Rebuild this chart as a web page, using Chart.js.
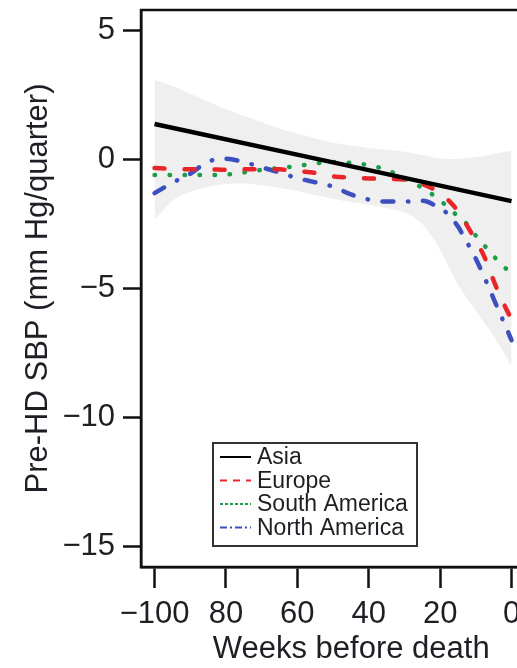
<!DOCTYPE html>
<html>
<head>
<meta charset="utf-8">
<script src="https://cdn.jsdelivr.net/npm/chart.js@4.4.1/dist/chart.umd.min.js"></script>
<style>
html, body { margin: 0; padding: 0; overflow: hidden; background: #fff; }
#wrap { position: absolute; left: 0; top: 0; width: 570px; height: 668px; }
</style>
</head>
<body>
<div id="wrap"><canvas id="chart" width="570" height="668"></canvas></div>
<script>
// weeks before death (negative = before)
var weeks = [-100, -95, -90, -85, -80, -75, -70, -65, -60, -55, -50, -45, -40, -35, -30, -25, -20, -17.5, -15, -12.5, -10, -7.5, -5, -2.5, 0];

var asiaWeeks = [-100, -50, 0];
var asia = [1.38, -0.11, -1.61];

var europe = [-0.33, -0.36, -0.38, -0.38, -0.40, -0.38, -0.37, -0.38, -0.45, -0.52, -0.65, -0.70, -0.73, -0.75, -0.78, -0.95, -1.30, -1.60, -2.00, -2.55, -3.15, -3.80, -4.70, -5.50, -6.20];
var southAmerica = [-0.60, -0.60, -0.60, -0.60, -0.58, -0.50, -0.40, -0.33, -0.25, -0.15, -0.09, -0.13, -0.22, -0.40, -0.73, -1.10, -1.58, -1.90, -2.20, -2.50, -2.95, -3.35, -3.75, -4.10, -4.45];
var northAmerica = [-1.30, -0.90, -0.55, -0.08, 0.03, -0.10, -0.30, -0.50, -0.72, -0.88, -1.05, -1.35, -1.55, -1.63, -1.63, -1.60, -1.90, -2.15, -2.60, -3.20, -3.85, -4.60, -5.40, -6.20, -7.00];

// grey confidence envelope
var bandWeeks = [-100, -95, -90, -85, -80, -75, -70, -65, -60, -55, -50, -45, -40, -35, -30, -25, -20, -15, -10, -5, 0];
var bandUpper = [3.10, 2.85, 2.55, 2.25, 1.95, 1.70, 1.45, 1.20, 1.00, 0.82, 0.65, 0.55, 0.45, 0.38, 0.30, 0.18, 0.05, 0.02, 0.10, 0.22, 0.35];
var bandLower = [-2.35, -1.60, -1.25, -1.05, -0.95, -0.92, -1.00, -1.10, -1.22, -1.38, -1.52, -1.65, -1.75, -1.88, -2.05, -2.50, -3.50, -4.85, -5.85, -6.85, -8.00];

var seriesNames = ['Asia', 'Europe', 'South America', 'North America'];

var xTickValues = [-100, -80, -60, -40, -20, 0];
var xTickLabels = ['\u2212100', '80', '60', '40', '20', '0'];
var yTickValues = [-15, -10, -5, 0, 5];
var yTickLabels = ['\u221215', '\u221210', '\u22125', '0', '5'];

function pts(xs, ys) {
    var out = [];
    for (var i = 0; i < xs.length; i++) out.push({x: xs[i], y: ys[i]});
    return out;
}

var FONT = '"Liberation Sans", Arial, Helvetica, sans-serif';
var INK = '#1e1e24';

var framePlugin = {
    id: 'frame',
    afterDraw: function(chart) {
        var a = chart.chartArea, ctx = chart.ctx;
        ctx.save();
        ctx.strokeStyle = '#111';
        ctx.lineWidth = 2.5;
        ctx.strokeRect(a.left, a.top, a.right - a.left, a.bottom - a.top);
        ctx.restore();
    }
};

// R-style boxed legend inside the plot
var boxLegend = {
    id: 'boxLegend',
    afterDraw: function(chart) {
        var ctx = chart.ctx;
        var items = chart.data.datasets.filter(function(d) { return !d.isBand; });
        var bx = 213, by = 443, bw = 204, bh = 103;
        ctx.save();
        ctx.fillStyle = '#fff';
        ctx.fillRect(bx, by, bw, bh);
        ctx.strokeStyle = '#333';
        ctx.lineWidth = 2;
        ctx.strokeRect(bx, by, bw, bh);
        ctx.font = '23px ' + FONT;
        ctx.textBaseline = 'middle';
        for (var i = 0; i < items.length; i++) {
            var d = items[i];
            var y = 457 + i * 23.5;
            ctx.strokeStyle = d.borderColor;
            ctx.lineWidth = 2;
            ctx.lineCap = 'butt';
            ctx.setLineDash(d.legendDash);
            ctx.beginPath();
            ctx.moveTo(220, y);
            ctx.lineTo(251, y);
            ctx.stroke();
            ctx.setLineDash([]);
            ctx.fillStyle = INK;
            ctx.fillText(d.label, 257, y + 1);
        }
        ctx.restore();
    }
};

var ctx = document.getElementById('chart').getContext('2d');
var myChart = new Chart(ctx, {
    type: 'line',
    data: {
        datasets: [
            {
                label: '', isBand: true, data: pts(bandWeeks, bandUpper),
                borderWidth: 0, pointRadius: 0, fill: '+1',
                backgroundColor: '#efefef', borderColor: 'rgba(0,0,0,0)',
                cubicInterpolationMode: 'monotone', order: 10
            },
            {
                label: '', isBand: true, data: pts(bandWeeks, bandLower),
                borderWidth: 0, pointRadius: 0, fill: false,
                borderColor: 'rgba(0,0,0,0)',
                cubicInterpolationMode: 'monotone', order: 10
            },
            {
                label: seriesNames[0], data: pts(asiaWeeks, asia),
                borderColor: '#000', borderWidth: 4.5, pointRadius: 0,
                legendDash: [], order: 1
            },
            {
                label: seriesNames[1], data: pts(weeks, europe),
                borderColor: '#e8262a', borderWidth: 4.5, pointRadius: 0,
                borderDash: [10, 20], borderCapStyle: 'round',
                cubicInterpolationMode: 'monotone', legendDash: [7, 6], order: 2
            },
            {
                label: seriesNames[2], data: pts(weeks, southAmerica),
                borderColor: '#1a9e4a', borderWidth: 4.5, pointRadius: 0,
                borderDash: [0.5, 14.5], borderCapStyle: 'round',
                cubicInterpolationMode: 'monotone', legendDash: [3, 2], order: 3
            },
            {
                label: seriesNames[3], data: pts(weeks, northAmerica),
                borderColor: '#3c4fbf', borderWidth: 4.5, pointRadius: 0,
                borderDash: [11, 14.5, 0.5, 14.5], borderCapStyle: 'round',
                cubicInterpolationMode: 'monotone', legendDash: [7, 3, 2, 3], order: 4
            }
        ]
    },
    options: {
        responsive: false,
        animation: false,
        devicePixelRatio: 1,
        layout: { padding: { top: 10, right: 8.5, left: 0, bottom: 0 } },
        plugins: {
            legend: { display: false },
            tooltip: { enabled: false },
            filler: { drawTime: 'beforeDatasetsDraw' }
        },
        scales: {
            x: {
                type: 'linear',
                min: -103.8,
                max: 14,
                afterFit: function(s) {
                    s.height = 101;
                    s.paddingLeft = 0; s.paddingRight = 0;
                },
                afterBuildTicks: function(s) {
                    s.ticks = xTickValues.map(function(v) { return {value: v}; });
                },
                ticks: {
                    autoSkip: false,
                    maxRotation: 0,
                    padding: 8,
                    color: INK,
                    font: { family: FONT, size: 31 },
                    callback: function(v) {
                        var i = xTickValues.indexOf(v);
                        return i < 0 ? '' : xTickLabels[i];
                    }
                },
                grid: { drawOnChartArea: false, drawTicks: true, tickLength: 21, tickWidth: 2.5, tickColor: '#111' },
                border: { display: true, color: '#111', width: 2.5 },
                title: {
                    display: true, text: 'Weeks before death', color: INK,
                    font: { family: FONT, size: 31 }, padding: { top: 0, bottom: 0 }
                }
            },
            y: {
                min: -15.8,
                max: 5.8,
                afterFit: function(s) {
                    s.width = 141;
                    s.paddingTop = 0; s.paddingBottom = 0;
                },
                afterBuildTicks: function(s) {
                    s.ticks = yTickValues.map(function(v) { return {value: v}; });
                },
                ticks: {
                    padding: 8,
                    color: INK,
                    font: { family: FONT, size: 31 },
                    callback: function(v) {
                        var i = yTickValues.indexOf(v);
                        return i < 0 ? '' : yTickLabels[i];
                    }
                },
                grid: { drawOnChartArea: false, drawTicks: true, tickLength: 18, tickWidth: 2.5, tickColor: '#111' },
                border: { display: true, color: '#111', width: 2.5 },
                title: {
                    display: true, text: 'Pre-HD SBP (mm Hg/quarter)', color: INK,
                    font: { family: FONT, size: 31 }, padding: { top: 20, bottom: 0 }
                }
            }
        }
    },
    plugins: [framePlugin, boxLegend]
});
</script>
</body>
</html>
